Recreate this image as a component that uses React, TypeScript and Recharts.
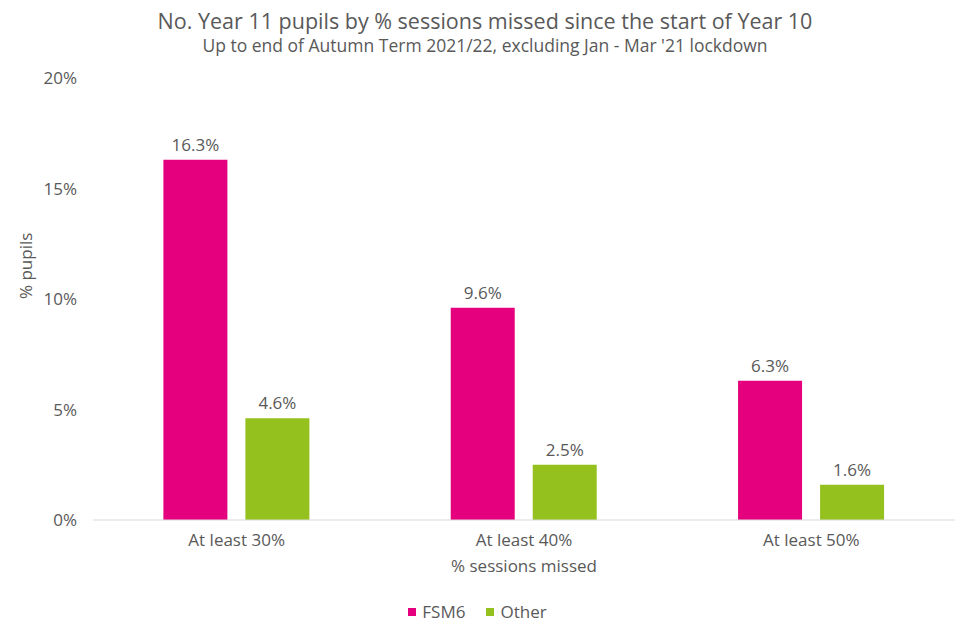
import { BarChart, Bar, XAxis, YAxis, Legend, LabelList } from "recharts"

const categories = ["At least 30%", "At least 40%", "At least 50%"]
const fsm6 = [16.3, 9.6, 6.3]
const other = [4.6, 2.5, 1.6]
const yTicks = [0, 5, 10, 15, 20]

const PINK = "#E5007E"
const GREEN = "#95C11F"
const TEXT = "#595959"
const FONT = "'Open Sans', Lato, sans-serif"

const data = categories.map((name, i) => ({ name, fsm6: fsm6[i], other: other[i] }))

function LegendContent() {
  const items = [
    { label: "FSM6", color: PINK },
    { label: "Other", color: GREEN },
  ]
  return (
    <div style={{ display: "flex", justifyContent: "center", gap: 21, fontFamily: FONT, fontSize: 17, color: TEXT }}>
      {items.map((it) => (
        <div key={it.label} style={{ display: "flex", alignItems: "center", gap: 6 }}>
          <div style={{ width: 8, height: 8, background: it.color }} />
          <span>{it.label}</span>
        </div>
      ))}
    </div>
  )
}

export default function App() {
  return (
    <div style={{ position: "absolute", left: 0, top: 0, width: 970, height: 634, background: "#fff", fontFamily: FONT }}>
      <div style={{ position: "absolute", top: 6, width: 970, textAlign: "center", fontSize: 21.5, color: TEXT }}>
        No. Year 11 pupils by % sessions missed since the start of Year 10
      </div>
      <div style={{ position: "absolute", top: 33, width: 970, textAlign: "center", fontSize: 17.5, color: TEXT }}>
        Up to end of Autumn Term 2021/22, excluding Jan - Mar '21 lockdown
      </div>
      <BarChart
        width={970}
        height={634}
        data={data}
        margin={{ top: 78, right: 15, bottom: 0, left: 0 }}
        barCategoryGap="24.5%"
        barGap={18}
      >
        <XAxis
          dataKey="name"
          axisLine={{ stroke: "#D9D9D9" }}
          tickLine={false}
          tickSize={0}
          tickMargin={14}
          height={80}
          tick={{ fill: TEXT, fontSize: 17, fontFamily: FONT }}
          label={{ value: "% sessions missed", position: "insideTop", offset: 40, fill: TEXT, fontSize: 17, fontFamily: FONT }}
        />
        <YAxis
          domain={[0, 20]}
          ticks={yTicks}
          width={93}
          axisLine={false}
          tickLine={false}
          tickSize={0}
          tickMargin={16}
          tickFormatter={(v: number) => `${v}%`}
          tick={{ fill: TEXT, fontSize: 17, fontFamily: FONT }}
          label={{ value: "% pupils", angle: -90, position: "insideLeft", offset: 26, fill: TEXT, fontSize: 17, fontFamily: FONT }}
        />
        <Legend verticalAlign="bottom" height={34} content={<LegendContent />} />
        <Bar dataKey="fsm6" name="FSM6" fill={PINK} isAnimationActive={false}>
          <LabelList dataKey="fsm6" position="top" offset={9} fill={TEXT} fontSize={17} fontFamily={FONT} formatter={(v: number) => `${v.toFixed(1)}%`} />
        </Bar>
        <Bar dataKey="other" name="Other" fill={GREEN} isAnimationActive={false}>
          <LabelList dataKey="other" position="top" offset={9} fill={TEXT} fontSize={17} fontFamily={FONT} formatter={(v: number) => `${v.toFixed(1)}%`} />
        </Bar>
      </BarChart>
    </div>
  )
}
